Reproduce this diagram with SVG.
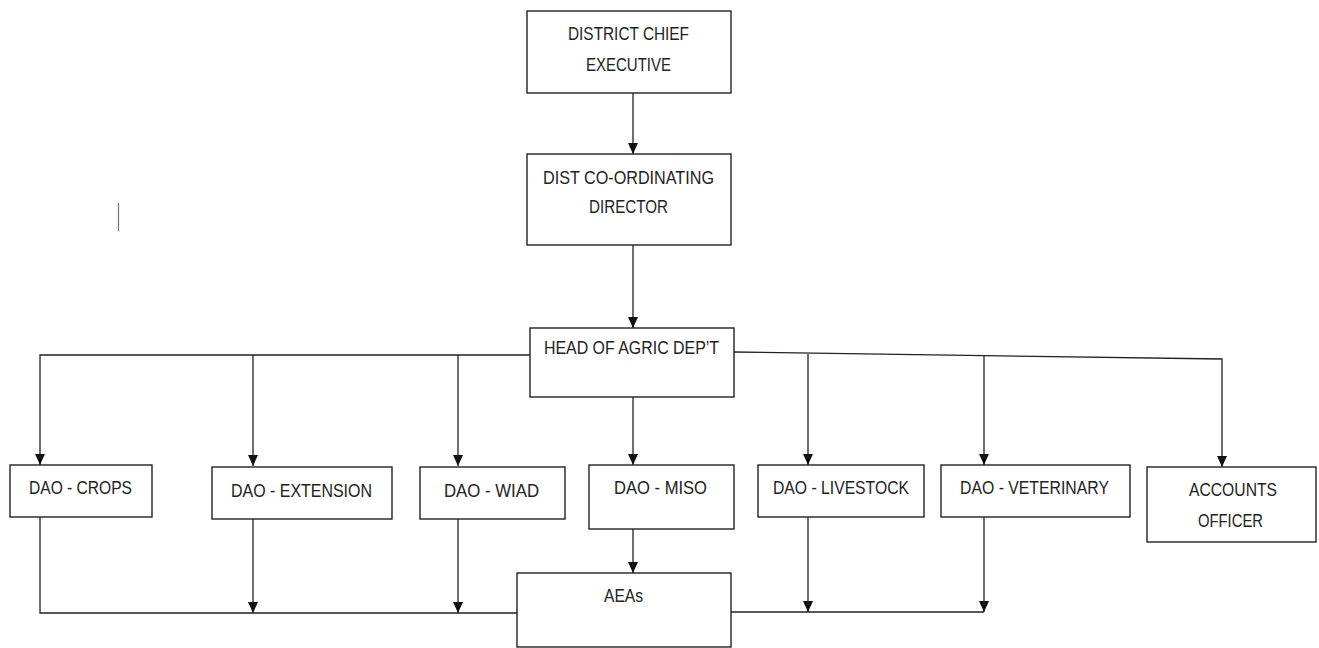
<svg xmlns="http://www.w3.org/2000/svg" width="1319" height="648" viewBox="0 0 1319 648">
<style>
.box{fill:#fff;stroke:#222;stroke-width:1.4}
.lbl{font-family:"Liberation Sans",Arial,sans-serif;font-size:18px;fill:#222}
.ln{fill:none;stroke:#222;stroke-width:1.3}
</style>
<defs>
<marker id="a" markerUnits="userSpaceOnUse" markerWidth="12" markerHeight="12" viewBox="0 0 12 12" refX="11" refY="6" orient="auto">
<path d="M0,1 L11,6 L0,11 Z" fill="#111"/>
</marker>
</defs>
<rect width="1319" height="648" fill="#fff"/>
<g id="connectors">
<line class="ln" x1="633" y1="93" x2="633" y2="154" marker-end="url(#a)"/>
<line class="ln" x1="633" y1="245" x2="633" y2="328" marker-end="url(#a)"/>
<polyline class="ln" points="530,355 40,355 40,465" marker-end="url(#a)"/>
<line class="ln" x1="253" y1="355" x2="253" y2="466" marker-end="url(#a)"/>
<line class="ln" x1="458" y1="355" x2="458" y2="466" marker-end="url(#a)"/>
<line class="ln" x1="633" y1="397" x2="633" y2="465" marker-end="url(#a)"/>
<polyline class="ln" points="734,352 1222,359 1222,467" marker-end="url(#a)"/>
<line class="ln" x1="808" y1="354" x2="808" y2="465" marker-end="url(#a)"/>
<line class="ln" x1="984" y1="356" x2="984" y2="465" marker-end="url(#a)"/>
<polyline class="ln" points="40,517 40,613 517,613"/>
<line class="ln" x1="253" y1="519" x2="253" y2="613" marker-end="url(#a)"/>
<line class="ln" x1="458" y1="519" x2="458" y2="613" marker-end="url(#a)"/>
<line class="ln" x1="633" y1="529" x2="633" y2="573" marker-end="url(#a)"/>
<line class="ln" x1="731" y1="612" x2="984" y2="612"/>
<line class="ln" x1="808" y1="517" x2="808" y2="612" marker-end="url(#a)"/>
<line class="ln" x1="984" y1="517" x2="984" y2="612" marker-end="url(#a)"/>
</g>
<g id="dce"><rect class="box" x="527" y="11" width="204" height="82"/>
<text class="lbl" x="568" y="40" textLength="121" lengthAdjust="spacingAndGlyphs">DISTRICT CHIEF</text>
<text class="lbl" x="586" y="71" textLength="85" lengthAdjust="spacingAndGlyphs">EXECUTIVE</text></g>
<g id="dcd"><rect class="box" x="527" y="154" width="204" height="91"/>
<text class="lbl" x="543" y="184" textLength="171" lengthAdjust="spacingAndGlyphs">DIST CO-ORDINATING</text>
<text class="lbl" x="589" y="213" textLength="79" lengthAdjust="spacingAndGlyphs">DIRECTOR</text></g>
<g id="head"><rect class="box" x="530" y="328" width="204" height="69"/>
<text class="lbl" x="544" y="354" textLength="175" lengthAdjust="spacingAndGlyphs">HEAD OF AGRIC DEP’T</text></g>
<g id="crops"><rect class="box" x="10" y="465" width="142" height="52"/>
<text class="lbl" x="29" y="494" textLength="103" lengthAdjust="spacingAndGlyphs">DAO - CROPS</text></g>
<g id="extension"><rect class="box" x="212" y="467" width="180" height="52"/>
<text class="lbl" x="231" y="497" textLength="141" lengthAdjust="spacingAndGlyphs">DAO - EXTENSION</text></g>
<g id="wiad"><rect class="box" x="420" y="467" width="145" height="52"/>
<text class="lbl" x="444" y="497" textLength="95" lengthAdjust="spacingAndGlyphs">DAO - WIAD</text></g>
<g id="miso"><rect class="box" x="589" y="465" width="145" height="64"/>
<text class="lbl" x="614" y="494" textLength="93" lengthAdjust="spacingAndGlyphs">DAO - MISO</text></g>
<g id="livestock"><rect class="box" x="758" y="465" width="166" height="52"/>
<text class="lbl" x="773" y="494" textLength="136" lengthAdjust="spacingAndGlyphs">DAO - LIVESTOCK</text></g>
<g id="veterinary"><rect class="box" x="941" y="465" width="189" height="52"/>
<text class="lbl" x="960" y="494" textLength="149" lengthAdjust="spacingAndGlyphs">DAO - VETERINARY</text></g>
<g id="accounts"><rect class="box" x="1147" y="467" width="169" height="75"/>
<text class="lbl" x="1189" y="496" textLength="88" lengthAdjust="spacingAndGlyphs">ACCOUNTS</text>
<text class="lbl" x="1198" y="527" textLength="65" lengthAdjust="spacingAndGlyphs">OFFICER</text></g>
<g id="aeas"><rect class="box" x="517" y="573" width="214" height="74"/>
<text class="lbl" x="604" y="602" textLength="39" lengthAdjust="spacingAndGlyphs">AEAs</text></g>
<line x1="118.5" y1="203" x2="118.5" y2="231" stroke="#777" stroke-width="1.2"/>
</svg>
